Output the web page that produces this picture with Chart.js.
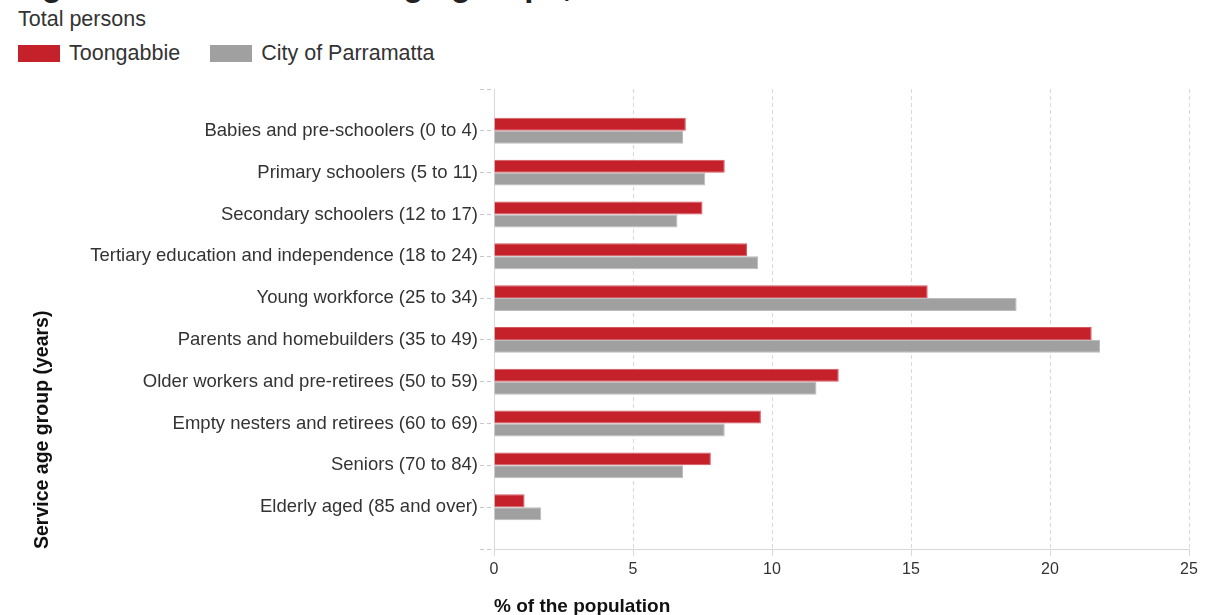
<!DOCTYPE html>
<html>
<head>
<meta charset="utf-8">
<title>Service age groups</title>
<script src="https://cdn.jsdelivr.net/npm/chart.js@4.4.1/dist/chart.umd.min.js"></script>
<style>
  html, body { margin: 0; padding: 0; background: #fff; }
  body {
    width: 1221px; height: 615px; overflow: hidden; position: relative;
    font-family: "Liberation Sans", Arial, sans-serif; color: #222;
  }
  #title {
    position: absolute; left: 18px; top: -32px; white-space: nowrap;
    font-size: 33px; line-height: 33px; font-weight: bold; color: #222;
  }
  #subtitle {
    position: absolute; left: 18px; top: 9px;
    font-size: 21.5px; line-height: 21.5px; color: #333;
  }
  #legend {
    position: absolute; left: 18px; top: 43px; display: flex;
    font-size: 21.5px; line-height: 21.5px; color: #333;
  }
  .item { display: flex; align-items: center; margin-right: 30px; }
  .swatch { width: 42px; height: 17px; margin-right: 9px; }
  #wrap { position: absolute; left: 0; top: 0; width: 1221px; height: 615px; }
</style>
</head>
<body>
<div id="title">Age structure - service age groups, 2016</div>
<div id="subtitle">Total persons</div>
<div id="legend"></div>
<div id="wrap"><canvas id="chart" width="1221" height="615"></canvas></div>

<script>
  // service age groups, top to bottom
  const ageGroups = [
    "Babies and pre-schoolers (0 to 4)",
    "Primary schoolers (5 to 11)",
    "Secondary schoolers (12 to 17)",
    "Tertiary education and independence (18 to 24)",
    "Young workforce (25 to 34)",
    "Parents and homebuilders (35 to 49)",
    "Older workers and pre-retirees (50 to 59)",
    "Empty nesters and retirees (60 to 69)",
    "Seniors (70 to 84)",
    "Elderly aged (85 and over)",
  ];

  // % of the population
  const toongabbie = [6.9, 8.3, 7.5, 9.1, 15.6, 21.5, 12.4, 9.6, 7.8, 1.1];
  const parramatta = [6.8, 7.6, 6.6, 9.5, 18.8, 21.8, 11.6, 8.3, 6.8, 1.7];

  const xTicks = [0, 5, 10, 15, 20, 25];
  const seriesNames = ["Toongabbie", "City of Parramatta"];
  const seriesColors = ["#c4212b", "#a0a0a0"];
  const seriesBorders = ["#d4585f", "#bcbcbc"];

  // empty slot above and below the groups, like the original axis
  const pad = (arr) => [null, ...arr, null];
  const labels = ["", ...ageGroups, ""];

  const legend = document.getElementById("legend");
  seriesNames.forEach((name, i) => {
    const item = document.createElement("div");
    item.className = "item";
    const sw = document.createElement("span");
    sw.className = "swatch";
    sw.style.background = seriesColors[i];
    const txt = document.createElement("span");
    txt.textContent = name;
    item.appendChild(sw);
    item.appendChild(txt);
    legend.appendChild(item);
  });

  Chart.defaults.font.family = "'Liberation Sans', Arial, sans-serif";

  const gridColor = "#d9d9d9";

  new Chart(document.getElementById("chart").getContext("2d"), {
    type: "bar",
    data: {
      labels,
      datasets: [
        {
          label: seriesNames[0],
          data: pad(toongabbie),
          backgroundColor: seriesColors[0],
          borderColor: seriesBorders[0],
          borderWidth: 1,
        },
        {
          label: seriesNames[1],
          data: pad(parramatta),
          backgroundColor: seriesColors[1],
          borderColor: seriesBorders[1],
          borderWidth: 1,
        },
      ],
    },
    options: {
      responsive: false,
      animation: false,
      indexAxis: "y",
      layout: { padding: { top: 89, right: 32, bottom: 0, left: 0 } },
      datasets: { bar: { categoryPercentage: 0.62, barPercentage: 1 } },
      plugins: {
        legend: { display: false },
        tooltip: { enabled: false },
      },
      scales: {
        x: {
          type: "linear",
          position: "bottom",
          min: xTicks[0],
          max: xTicks[xTicks.length - 1],
          ticks: { stepSize: xTicks[1] - xTicks[0], color: "#333", font: { size: 16 }, padding: 4 },
          grid: { color: gridColor, tickColor: gridColor, tickLength: 7 },
          border: { color: gridColor, dash: [4, 3] },
          title: {
            display: true,
            text: "% of the population",
            align: "start",
            color: "#111",
            font: { size: 19, weight: "bold" },
            padding: { top: 0, bottom: -3 },
          },
          afterFit(scale) {
            scale.height = 66;
          },
        },
        y: {
          type: "category",
          offset: false,
          ticks: { color: "#333", font: { size: 18.5 }, padding: 2, autoSkip: false },
          grid: {
            offset: false,
            drawOnChartArea: false,
            tickLength: 14,
            tickColor: "#c8c8c8",
            tickBorderDash: [4, 3],
          },
          border: { color: gridColor },
          title: {
            display: true,
            text: "Service age group (years)",
            align: "start",
            color: "#111",
            font: { size: 19.5, weight: "bold" },
            padding: { top: 31, bottom: 0 },
          },
          afterFit(scale) {
            scale.width = 494;
          },
        },
      },
    },
  });
</script>
</body>
</html>
